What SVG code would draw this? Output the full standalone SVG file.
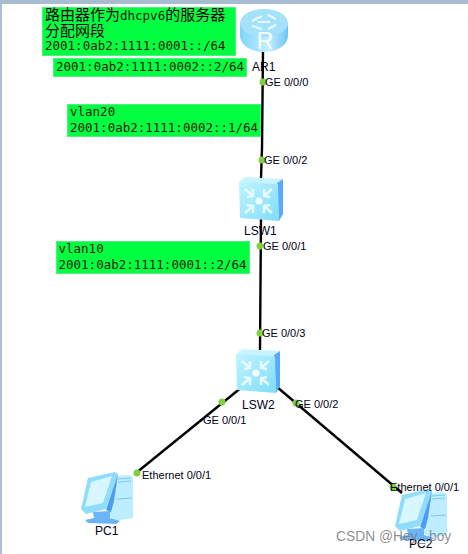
<svg xmlns="http://www.w3.org/2000/svg" width="468" height="554" viewBox="0 0 468 554">
<style>
.lab{font-family:"Liberation Sans",Arial,sans-serif;font-size:11px;fill:#000018}
.name{font-family:"Liberation Sans",Arial,sans-serif;font-size:12px;fill:#000018}
.m{font-family:"DejaVu Sans Mono",monospace;font-size:12.5px;fill:#2a1a08}
.cn{font-family:"Noto Sans CJK SC",sans-serif;font-size:15px;fill:#2a0010}
.g{fill:#00ff40;stroke:#50f080;stroke-width:1}
.l{stroke:#000;stroke-width:2.4;fill:none}
.d{fill:#80d040}
.w{fill:none;stroke:#e8fbff;stroke-width:2.4}
</style>
<defs>
<linearGradient id="sf" x1="0" y1="0" x2="1" y2="1"><stop offset="0" stop-color="#c0f4ff"/><stop offset="1" stop-color="#7fdcfb"/></linearGradient>
<linearGradient id="rt" x1="0" y1="0" x2="1" y2="0"><stop offset="0" stop-color="#7fd4fb"/><stop offset="0.6" stop-color="#c4efff"/><stop offset="1" stop-color="#6cc4f5"/></linearGradient>
<g id="sw">
<path d="M0,5 L6,0 L44,2 L42,8 Z" fill="#c8f4ff"/>
<path d="M38,6 L44,2 L44,37 L40,44 Z" fill="#5aa8ff"/>
<path d="M0,5 L39,7 L40,44 L1,41 Z" fill="url(#sf)"/>
<circle cx="20" cy="24" r="3.6" fill="#f2fdff"/>
<path class="w" d="M6,12 L14,19 M8,20 L14,19 L14,12 M33,12 L25,19 M31,20 L25,19 L25,12 M6,36 L14,29 M8,28 L14,29 L14,36 M33,36 L25,29 M31,28 L25,29 L25,36"/>
</g>
<g id="pc">
<path d="M33,5 L50,4 L53,7 L53,47 L36,50 L28,44 Z" fill="#bdeeff"/>
<path d="M38,8 L51,7 M38,11 L51,10 M37,28 L52,27" stroke="#7cc8f4" stroke-width="1" fill="none"/>
<path d="M13,41 L30,40 L30,47 L40,50 L36,53 L8,52 L5,49 L14,47 Z" fill="#6cb4f8"/>
<path d="M1,38 L8,7 L35,1 L38,3 L26,38 L6,43 Z" fill="#8fdcfb"/>
<path d="M26,39 L38,3 L34,30 L31,41 Z" fill="#4a9cf4"/>
<path d="M5,36 L11,11 L32,5 L23,32 Z" fill="#d8f6ff"/>
</g>
</defs>
<rect width="468" height="554" fill="#fff"/>
<rect width="468" height="4" fill="#a9bdd2"/>
<rect y="4" width="2" height="550" fill="#a9bdd2"/>
<g id="connectors">
<path class="l" d="M263,50 L262,148 M262,148 L261,178 M261,216 L260,350 M242,387 L136,473 M277,387 L402,493"/>
<circle class="d" cx="263" cy="82" r="3.5"/>
<circle class="d" cx="262" cy="160" r="3.5"/>
<circle class="d" cx="260" cy="246" r="3.5"/>
<circle class="d" cx="260" cy="333" r="3.5"/>
<circle class="d" cx="222" cy="402" r="3.5"/>
<circle class="d" cx="296" cy="403" r="3.5"/>
<circle class="d" cx="137" cy="473" r="3.5"/>
<circle class="d" cx="393" cy="487" r="3.5"/>
</g>
<g id="note1"><rect class="g" x="42.500" y="7.500" width="193" height="48"/>
<text class="cn" x="45" y="20">路由器作为<tspan class="m">dhcpv6</tspan>的服务器</text>
<text class="cn" x="45" y="36">分配网段</text>
<text class="m" x="45" y="50">2001:0ab2:1111:0001::/64</text></g>
<g id="note2"><rect class="g" x="53.500" y="58.500" width="193" height="18"/>
<text class="m" x="56" y="71">2001:0ab2:1111:0002::2/64</text></g>
<g id="note3"><rect class="g" x="67.500" y="104.500" width="193" height="32"/>
<text class="m" x="70" y="116">vlan20</text>
<text class="m" x="70" y="132">2001:0ab2:1111:0002::1/64</text></g>
<g id="note4"><rect class="g" x="56.500" y="241.500" width="193" height="32"/>
<text class="m" x="58.500" y="253">vlan10</text>
<text class="m" x="58.500" y="269">2001:0ab2:1111:0001::2/64</text></g>
<g id="AR1">
<ellipse cx="264" cy="36" rx="24" ry="16" fill="url(#rt)"/>
<rect x="240" y="23" width="48" height="13" fill="url(#rt)"/>
<ellipse cx="264" cy="23" rx="24" ry="14" fill="#a4e2fb"/>
<path d="M252,21 L262,16 M268,15 L276,19 M252,26 L262,29 M268,29 L276,25 M258,22 L270,22" stroke="#e4faff" stroke-width="2.200" fill="none"/>
<text x="265" y="49" font-family="Liberation Sans,sans-serif" font-size="23" fill="#f6feff" text-anchor="middle">R</text>
<text class="name" x="252" y="71">AR1</text>
<text class="lab" x="265" y="86">GE 0/0/0</text>
</g>
<g id="LSW1">
<use href="#sw" x="239" y="177"/>
<text class="name" x="244" y="235">LSW1</text>
<text class="lab" x="264" y="164">GE 0/0/2</text>
<text class="lab" x="263" y="250">GE 0/0/1</text>
</g>
<g id="LSW2">
<use href="#sw" x="236" y="349"/>
<text class="name" x="242" y="409">LSW2</text>
<text class="lab" x="262" y="337">GE 0/0/3</text>
<text class="lab" x="295" y="408">GE 0/0/2</text>
<text class="lab" x="203" y="424">GE 0/0/1</text>
</g>
<g id="PC1">
<use href="#pc" x="80" y="471"/>
<text class="name" x="95" y="535">PC1</text>
<text class="lab" x="142" y="479">Ethernet 0/0/1</text>
</g>
<g id="PC2">
<use href="#pc" x="394" y="488"/>
<text class="lab" x="390" y="491">Ethernet 0/0/1</text>
<text class="name" x="409" y="548">PC2</text>
</g>
<text x="336" y="541" font-family="Liberation Sans,sans-serif" font-size="13.800" fill="#7a7a7a" fill-opacity="0.85">CSDN @Hey_ boy</text>
</svg>
